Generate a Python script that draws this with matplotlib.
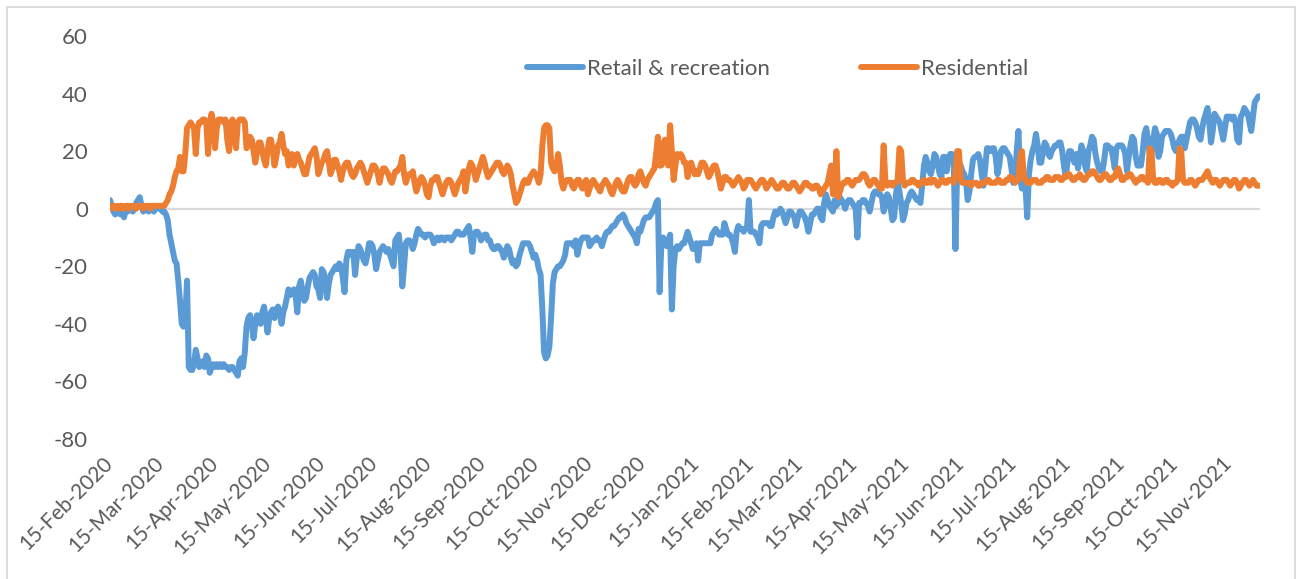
import pandas as pd
import matplotlib
matplotlib.use("Agg")
import matplotlib.pyplot as plt
from matplotlib.patches import Rectangle


# ---------------------------------------------------------
# data: daily mobility change (%), one row per week from 15-Feb-2020

start_date = "2020-02-15"

retail_weeks = [
    [3, 1, -1, -2, 0, -1, -2],
    [-1, -3, 0, -1, 1, 0, -1],
    [0, 2, 3, 4, 1, -1, 0],
    [0, -1, 1, 0, -1, 0, 1],
    [0, 0, -1, -1, -2, -4, -9],
    [-12, -15, -18, -19, -25, -32, -40],
    [-41, -38, -25, -55, -56, -56, -54],
    [-49, -52, -55, -54, -53, -55, -51],
    [-52, -57, -55, -54, -55, -54, -55],
    [-54, -55, -54, -55, -55, -56, -55],
    [-55, -56, -57, -58, -53, -52, -55],
    [-50, -41, -38, -37, -40, -45, -40],
    [-37, -38, -40, -36, -34, -38, -43],
    [-38, -36, -35, -38, -35, -34, -36],
    [-40, -36, -34, -31, -28, -30, -29],
    [-28, -30, -36, -27, -25, -29, -32],
    [-31, -27, -24, -23, -22, -23, -27],
    [-28, -31, -21, -22, -25, -31, -26],
    [-23, -22, -21, -20, -21, -19, -20],
    [-24, -29, -18, -15, -15, -16, -15],
    [-23, -17, -13, -14, -16, -18, -19],
    [-16, -12, -12, -13, -16, -21, -18],
    [-15, -14, -13, -14, -15, -14, -16],
    [-18, -20, -11, -10, -9, -15, -27],
    [-20, -12, -11, -11, -12, -14, -12],
    [-9, -7, -8, -9, -9, -10, -9],
    [-9, -9, -10, -12, -11, -10, -11],
    [-10, -10, -11, -10, -10, -10, -11],
    [-10, -9, -8, -8, -9, -9, -9],
    [-8, -7, -6, -10, -15, -9, -8],
    [-8, -9, -11, -10, -9, -9, -11],
    [-11, -13, -14, -14, -13, -13, -14],
    [-15, -17, -15, -13, -14, -17, -19],
    [-18, -20, -19, -16, -14, -12, -12],
    [-12, -12, -13, -15, -17, -16, -18],
    [-21, -23, -35, -50, -52, -51, -48],
    [-38, -26, -22, -21, -20, -20, -19],
    [-18, -16, -12, -12, -12, -12, -13],
    [-11, -16, -13, -11, -10, -10, -10],
    [-10, -13, -12, -11, -11, -10, -11],
    [-11, -13, -11, -9, -8, -8, -7],
    [-6, -6, -5, -4, -3, -3, -2],
    [-3, -5, -6, -7, -8, -9, -10],
    [-12, -7, -8, -6, -4, -3, -3],
    [-3, -2, -1, 0, 2, 3, -29],
    [-12, -10, -12, -13, -11, -9, -35],
    [-20, -14, -13, -14, -13, -12, -12],
    [-10, -8, -10, -12, -14, -13, -12],
    [-18, -12, -12, -12, -12, -12, -12],
    [-12, -9, -8, -7, -8, -9, -9],
    [-9, -5, -7, -9, -9, -10, -12],
    [-15, -8, -6, -7, -7, -8, -7],
    [-6, 3, -8, -8, -8, -9, -10],
    [-12, -6, -5, -5, -5, -5, -6],
    [-6, -3, -1, -2, -1, 0, -1],
    [-3, -5, -3, -1, -1, -2, -3],
    [-6, -3, -1, -1, -2, -3, -5],
    [-8, -5, -2, -2, -1, 0, 0],
    [-3, -4, 2, 5, 3, 1, 0],
    [-1, 3, 1, 2, 4, 3, 2],
    [0, 2, 3, 3, 2, 1, 0],
    [-10, 2, 2, 3, 3, 2, 1],
    [-1, 2, 5, 6, 6, 5, 5],
    [4, -1, 2, 5, 4, 0, -4],
    [-3, 5, 9, 6, 2, -4, -2],
    [2, 3, 5, 6, 5, 4, 3],
    [3, 2, 8, 15, 18, 16, 13],
    [12, 15, 19, 18, 15, 12, 11],
    [18, 18, 13, 17, 19, 19, 18],
    [-14, 14, 16, 15, 13, 12, 10],
    [3, 6, 12, 17, 18, 18, 19],
    [17, 12, 8, 14, 21, 21, 20],
    [21, 21, 18, 12, 15, 20, 21],
    [21, 20, 19, 18, 14, 9, 10],
    [20, 27, 10, 7, 10, 8, -3],
    [12, 17, 20, 22, 26, 22, 16],
    [16, 20, 23, 22, 19, 18, 20],
    [21, 22, 22, 23, 23, 20, 15],
    [11, 16, 20, 20, 18, 16, 19],
    [14, 18, 22, 20, 15, 13, 20],
    [22, 25, 24, 19, 16, 14, 13],
    [13, 17, 22, 22, 21, 21, 18],
    [14, 21, 22, 22, 22, 21, 19],
    [13, 18, 22, 25, 24, 18, 15],
    [15, 15, 20, 26, 28, 24, 19],
    [19, 24, 28, 26, 18, 20, 25],
    [26, 27, 27, 27, 26, 24, 21],
    [20, 22, 24, 25, 25, 21, 24],
    [27, 30, 31, 31, 30, 28, 25],
    [24, 28, 31, 33, 35, 30, 23],
    [27, 33, 32, 31, 30, 27, 24],
    [28, 32, 32, 32, 31, 32, 30],
    [24, 23, 32, 33, 35, 34, 33],
    [30, 27, 32, 37, 38, 39, 39],
]

residential_weeks = [
    [0, 1, 1, 0, 1, 0, 1],
    [1, 0, 1, 1, 0, 1, 1],
    [1, 0, 1, 1, 1, 0, 1],
    [1, 1, 0, 1, 1, 1, 1],
    [1, 1, 1, 1, 2, 3, 5],
    [6, 8, 11, 13, 14, 18, 13],
    [13, 19, 28, 29, 30, 29, 28],
    [19, 28, 30, 30, 31, 31, 30],
    [19, 30, 33, 30, 21, 28, 31],
    [31, 31, 30, 31, 24, 20, 30],
    [31, 24, 21, 30, 31, 31, 31],
    [30, 21, 22, 25, 24, 20, 16],
    [20, 23, 23, 20, 17, 15, 20],
    [24, 24, 20, 15, 18, 22, 23],
    [26, 22, 19, 20, 15, 16, 19],
    [15, 18, 19, 17, 16, 14, 12],
    [12, 15, 18, 19, 20, 21, 18],
    [12, 14, 16, 17, 19, 20, 16],
    [12, 14, 17, 17, 15, 13, 10],
    [13, 15, 16, 16, 14, 12, 11],
    [12, 14, 15, 16, 15, 13, 11],
    [9, 11, 13, 15, 15, 14, 12],
    [9, 12, 14, 14, 13, 12, 10],
    [9, 11, 13, 13, 14, 15, 18],
    [12, 9, 11, 12, 12, 13, 9],
    [6, 8, 10, 11, 10, 8, 5],
    [4, 8, 10, 10, 11, 11, 9],
    [7, 5, 7, 9, 10, 10, 9],
    [7, 5, 7, 9, 10, 11, 13],
    [6, 10, 14, 16, 15, 13, 10],
    [12, 14, 16, 18, 16, 13, 11],
    [12, 13, 14, 15, 16, 16, 15],
    [13, 12, 13, 15, 14, 12, 8],
    [5, 2, 3, 5, 7, 9, 10],
    [9, 9, 11, 12, 13, 12, 11],
    [9, 12, 22, 28, 29, 29, 28],
    [16, 14, 13, 15, 19, 15, 9],
    [7, 9, 10, 10, 10, 8, 7],
    [9, 10, 10, 8, 7, 9, 10],
    [5, 7, 9, 10, 9, 8, 7],
    [6, 8, 9, 10, 9, 8, 6],
    [5, 7, 9, 10, 9, 7, 6],
    [6, 8, 10, 11, 11, 9, 8],
    [9, 12, 13, 11, 9, 8, 10],
    [11, 12, 13, 14, 19, 25, 15],
    [15, 22, 24, 16, 15, 29, 20],
    [10, 15, 19, 18, 19, 18, 16],
    [16, 11, 15, 16, 14, 12, 13],
    [12, 14, 16, 16, 15, 13, 11],
    [12, 14, 15, 15, 13, 10, 7],
    [9, 11, 11, 10, 10, 9, 8],
    [9, 10, 11, 10, 9, 7, 8],
    [10, 10, 10, 9, 8, 7, 8],
    [9, 10, 10, 9, 7, 8, 9],
    [10, 9, 8, 7, 7, 8, 9],
    [9, 8, 7, 7, 8, 9, 9],
    [8, 7, 6, 7, 8, 9, 9],
    [8, 8, 7, 7, 8, 8, 7],
    [5, 6, 7, 8, 9, 12, 15],
    [5, 6, 20, 4, 6, 8, 9],
    [9, 10, 10, 9, 8, 9, 10],
    [10, 10, 11, 12, 12, 11, 9],
    [8, 9, 10, 10, 9, 8, 7],
    [7, 22, 9, 8, 9, 9, 8],
    [9, 9, 10, 21, 20, 10, 8],
    [9, 9, 9, 10, 10, 9, 9],
    [8, 9, 9, 10, 9, 9, 10],
    [9, 10, 10, 9, 8, 9, 10],
    [10, 9, 9, 10, 10, 10, 9],
    [12, 20, 20, 10, 9, 9, 9],
    [9, 9, 8, 9, 9, 9, 8],
    [8, 9, 9, 9, 10, 10, 9],
    [9, 9, 9, 10, 10, 9, 9],
    [9, 10, 10, 11, 11, 10, 9],
    [10, 10, 18, 20, 12, 10, 9],
    [9, 9, 10, 10, 10, 9, 9],
    [9, 10, 10, 11, 11, 10, 10],
    [10, 11, 11, 11, 10, 10, 11],
    [11, 12, 12, 11, 10, 10, 11],
    [11, 12, 11, 10, 10, 11, 12],
    [12, 13, 13, 12, 11, 10, 10],
    [11, 12, 12, 11, 10, 10, 11],
    [11, 13, 14, 12, 10, 10, 11],
    [11, 12, 12, 11, 10, 9, 10],
    [10, 11, 11, 10, 10, 9, 21],
    [20, 10, 9, 9, 10, 10, 9],
    [9, 10, 10, 9, 9, 8, 9],
    [9, 10, 21, 20, 10, 9, 9],
    [9, 10, 10, 9, 8, 9, 10],
    [10, 10, 11, 12, 13, 11, 10],
    [9, 10, 10, 9, 8, 9, 10],
    [10, 10, 9, 8, 9, 10, 10],
    [9, 7, 8, 9, 10, 10, 9],
    [8, 9, 10, 9, 8, 8, 8],
]

series_names = ["Retail & recreation", "Residential"]
series_colors = ["#5B9BD5", "#ED7D31"]

y_ticks = [-80, -60, -40, -20, 0, 20, 40, 60]

# ---------------------------------------------------------

retail = [v for week in retail_weeks for v in week]
residential = [v for week in residential_weeks for v in week]

dates = pd.date_range(start_date, periods=len(retail), freq="D")

tick_dates = pd.date_range("2020-02-01", "2021-11-01", freq="MS") + pd.Timedelta(days=14)

text_color = "#595959"
font_size = 16

plt.rcParams["font.family"] = ["Lato", "DejaVu Sans"]

fig = plt.figure(figsize=(12.96, 5.79), dpi=100)

ax = fig.add_axes([110 / 1296, 1 - 439 / 579, 1150 / 1296, 403 / 579])

ax.axhline(0, color="#d9d9d9", linewidth=1.6, zorder=1)

for values, name, color in zip([retail, residential], series_names, series_colors):
    ax.plot(
        dates,
        values,
        color=color,
        linewidth=4.3,
        solid_joinstyle="round",
        solid_capstyle="round",
        label=name,
        zorder=3,
    )

ax.set_xlim(dates[0], dates[-1])
ax.set_ylim(-80, 60)

ax.set_yticks(y_ticks)
ax.set_yticklabels([str(t) for t in y_ticks])

ax.set_xticks(tick_dates)
ax.set_xticklabels([d.strftime("%d-%b-%Y") for d in tick_dates])

ax.tick_params(axis="both", length=0, colors=text_color)
ax.tick_params(axis="y", pad=16, labelsize=font_size)
ax.tick_params(axis="x", pad=15, labelsize=15)

for label in ax.get_xticklabels():
    label.set_rotation(45)
    label.set_horizontalalignment("right")
    label.set_verticalalignment("center")
    label.set_rotation_mode("anchor")

for spine in ax.spines.values():
    spine.set_visible(False)

fig.legend(
    loc="center",
    bbox_to_anchor=(778 / 1296, 1 - 69 / 579),
    ncol=2,
    frameon=False,
    fontsize=font_size,
    labelcolor=text_color,
    handlelength=2.5,
    handletextpad=0.2,
    columnspacing=4.1,
)

# chart area border
fig.patches.append(
    Rectangle(
        (7 / 1296, -0.05),
        1288 / 1296,
        1.05 - 7 / 579,
        transform=fig.transFigure,
        fill=False,
        edgecolor="#d9d9d9",
        linewidth=1.3,
    )
)

fig.savefig("out.png", dpi=100, facecolor="white")
plt.close(fig)
